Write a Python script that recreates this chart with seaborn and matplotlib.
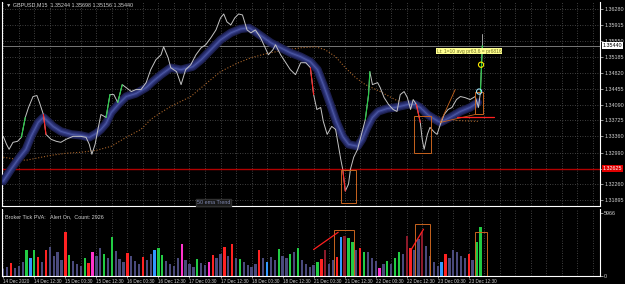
import numpy as np
import matplotlib
matplotlib.use("Agg")
import matplotlib.pyplot as plt
import matplotlib.transforms as mtransforms
from matplotlib.patches import Rectangle
from matplotlib.ticker import FixedLocator, MultipleLocator
import seaborn as sns
import pandas as pd

#################################################
#   DATA   --------------------------------------
#################################################
# x axis is the M15 bar index
price_bar = [0, 5, 9, 15, 22, 28, 34, 39, 46, 52, 56, 62, 66, 74, 82, 89, 97, 108, 120, 128,
             133, 137, 142, 147, 151, 159, 165, 171, 177, 184, 190, 198, 205, 213, 221, 228, 236, 244, 248, 255,
             259, 268, 275, 282, 290, 298, 306, 313, 321, 329, 336, 341, 346, 352, 358, 364, 370, 377, 383, 390,
             398, 403, 410, 417, 421, 429, 437, 444, 452, 460, 468, 475, 480, 485, 491, 495, 501, 508, 514, 518,
             522, 525, 529, 534, 537, 542, 548, 554, 560, 565, 567, 571, 579, 583, 589, 596, 603, 609, 614, 620,
             625, 630, 634, 639, 645, 648, 651, 656, 660, 667, 671, 676, 682, 688, 694, 701, 707, 714, 722, 730,
             735, 738, 741]
price_close = [1.33362, 1.33179, 1.33065, 1.33225, 1.33248, 1.33339, 1.33795, 1.34023, 1.34274, 1.34297,
               1.34137, 1.33863, 1.33407, 1.33293, 1.33248, 1.33225, 1.33293, 1.33362, 1.33362, 1.33339,
               1.33179, 1.32951, 1.33179, 1.33567, 1.33863, 1.33795, 1.34319, 1.34319, 1.34137, 1.34547,
               1.34479, 1.34388, 1.34433, 1.34433, 1.34593, 1.34889, 1.35117, 1.35231, 1.35414, 1.35163,
               1.34935, 1.34844, 1.34547, 1.34889, 1.35003, 1.35231, 1.35391, 1.35459, 1.35619, 1.35801,
               1.36075, 1.36166, 1.35984, 1.35915, 1.36075, 1.36166, 1.36143, 1.35801, 1.35733, 1.35801,
               1.35619, 1.35459, 1.35231, 1.35345, 1.35459, 1.35231, 1.35049, 1.34889, 1.34775, 1.35049,
               1.35049, 1.34935, 1.34319, 1.33977, 1.34023, 1.33704, 1.33407, 1.33590, 1.33521, 1.33179,
               1.32837, 1.32609, 1.32108, 1.32267, 1.32609, 1.32883, 1.33065, 1.33407, 1.33749, 1.34319,
               1.34844, 1.34547, 1.34593, 1.34479, 1.34251, 1.34091, 1.33977, 1.33932, 1.34319, 1.34388,
               1.34251, 1.33977, 1.34205, 1.34091, 1.33681, 1.33293, 1.33065, 1.33407, 1.33567, 1.33453,
               1.33407, 1.33635, 1.33863, 1.33977, 1.34023, 1.34205, 1.34274, 1.34251, 1.34205, 1.34274,
               1.34023, 1.34365, 1.35440]
last_ohlc = [1.35244, 1.35698, 1.35156, 1.35440]

ema_bar = [0, 12, 23, 35, 43, 54, 62, 69, 77, 89, 105, 120, 133, 144, 151, 159, 167, 179, 190, 205,
           221, 231, 244, 259, 275, 293, 306, 321, 336, 352, 367, 380, 390, 403, 414, 429, 444, 460, 475, 486,
           495, 506, 515, 525, 534, 548, 555, 563, 571, 580, 594, 606, 626, 637, 645, 656, 668, 676, 691, 707,
           722, 734]
ema_val = [1.32336, 1.32609, 1.32837, 1.33065, 1.33362, 1.33681, 1.33795, 1.33704, 1.33590, 1.33476,
           1.33407, 1.33384, 1.33339, 1.33430, 1.33521, 1.33658, 1.33909, 1.34114, 1.34274, 1.34342,
           1.34479, 1.34616, 1.34775, 1.34935, 1.34889, 1.34958, 1.35117, 1.35345, 1.35573, 1.35733,
           1.35824, 1.35847, 1.35756, 1.35619, 1.35505, 1.35391, 1.35277, 1.35186, 1.35072, 1.34889,
           1.34547, 1.34091, 1.33704, 1.33362, 1.33179, 1.33134, 1.33293, 1.33567, 1.33795, 1.33932,
           1.34000, 1.34023, 1.34091, 1.34091, 1.34023, 1.33863, 1.33749, 1.33681, 1.33795, 1.33932,
           1.34023, 1.34137]

slow_bar = [0, 20, 35, 51, 74, 97, 120, 144, 167, 190, 213, 228, 244, 259, 290, 321, 336, 360, 383, 406,
            429, 460, 483, 498, 514, 529, 545, 560, 583, 606, 630, 653, 676, 699, 734]
slow_val = [1.32883, 1.32837, 1.32814, 1.32860, 1.32928, 1.32974, 1.32997, 1.33042, 1.33134, 1.33339,
            1.33521, 1.33749, 1.33909, 1.34046, 1.34274, 1.34661, 1.34844, 1.35026, 1.35163, 1.35254,
            1.35322, 1.35391, 1.35414, 1.35345, 1.35186, 1.34935, 1.34707, 1.34547, 1.34388, 1.34205,
            1.34046, 1.33909, 1.33795, 1.33727, 1.33704]

# tick volume, one bar per 6 candles
vol_count = [670, 860, 1250, 770, 960, 1340, 2500, 1730, 2500, 1820,
             1340, 2500, 2780, 1920, 2300, 1540, 4130, 2020, 1440, 1150,
             960, 1730, 1250, 2300, 1920, 2690, 2110, 1730, 3650, 2400,
             1630, 1340, 2210, 1920, 1440, 1150, 1820, 1540, 2110, 2500,
             2690, 2020, 1440, 1150, 960, 1730, 2980, 1540, 1150, 860,
             1630, 1250, 1060, 1340, 2020, 1730, 2110, 2780, 1920, 2980,
             1730, 1630, 1340, 1060, 860, 1150, 2500, 1730, 1340, 1820,
             1540, 2590, 1920, 1730, 2110, 2300, 2690, 1540, 1150, 860,
             1060, 1340, 1630, 2500, 1150, 1540, 1820, 3650, 3740, 3550,
             3170, 2500, 2690, 2300, 2300, 1730, 1440, 770, 1150, 1440,
             1150, 1730, 2300, 2110, 3740, 2690, 2500, 3460, 4130, 2880,
             1920, 1340, 960, 1340, 2110, 1730, 2500, 2300, 1920, 1730,
             2110, 1540, 3170, 4610]
vol_kind = ("ssrsssgbgr" "srssssrgss" "sgrmssgsgs" "ssrsssrssb" "ggssssmsss"
            "gssmrssrsr" "sgssssrsbs" "sgssgsgsss" "sgrdssrbdg" "gsrgsssmsg"
            "sggsdrssds" "sssbrsssss" "rsgg")

price_ticks = [1.31895, 1.32260, 1.32625, 1.32990, 1.33360, 1.33725, 1.34090,
               1.34455, 1.34820, 1.35185, 1.35550, 1.35915, 1.36280]
time_ticks = ["14 Dec 2020", "14 Dec 12:30", "15 Dec 00:30", "15 Dec 12:30", "16 Dec 00:30",
              "16 Dec 12:30", "17 Dec 00:30", "17 Dec 12:30", "18 Dec 00:30", "18 Dec 12:30",
              "21 Dec 00:30", "21 Dec 12:30", "22 Dec 00:30", "22 Dec 12:30", "23 Dec 00:30",
              "23 Dec 12:30"]
support_level = 1.32625
bid_price = 1.35440
vol_max = 5966

# pattern boxes: bar0, bar1, low, high
price_boxes = [(522, 545, 1.31834, 1.32586), (636, 662, 1.32974, 1.33818), (730, 742, 1.33863, 1.34388)]
vol_boxes = [(512, 542, 0, 4320), (637, 660, 0, 4900), (730, 748, 0, 4130)]
vol_trend = [((480, 518), (2500, 4130)), ((630, 650), (2400, 4420))]
wedge_lines = [((676, 699), (1.33681, 1.34433)), ((676, 730), (1.33681, 1.33863))]
short_level = ((702, 759), (1.33795, 1.33795))

#################################################
#   STYLE   -------------------------------------
#################################################
sns.set_theme(style="dark", rc={"axes.facecolor": "black", "figure.facecolor": "black",
                                 "axes.edgecolor": "white", "text.color": "#d0d0d0"})
plt.rcParams['font.family'] = ['Liberation Sans', 'DejaVu Sans']

txt_col = "#d0d0d0"
grid_kw = dict(color="#555555", linestyle=(0, (1, 2)), linewidth=0.6)
fs = 3.9

fig = plt.figure(figsize=(6.25, 2.84), dpi=100)
ax = fig.add_axes([2 / 625, 1 - 206 / 284, 598 / 625, 204 / 284])
axv = fig.add_axes([2 / 625, 1 - 276 / 284, 598 / 625, 67 / 284], sharex=ax)

#################################################
#   PRICE PANEL   -------------------------------
#################################################
ax.axhline(support_level, color="#b00000", lw=1.0, zorder=2)
ax.axhline(bid_price, color="#8a8a8a", lw=0.6, zorder=2)

sns.lineplot(x=slow_bar, y=slow_val, ax=ax, color="#a8642a", lw=0.8, linestyle=":", zorder=3)

for lw, c in [(6.0, "#1c1f4e"), (4.2, "#272d6c"), (2.2, "#363f88"), (0.7, "#4d58a4")]:
    sns.lineplot(x=ema_bar, y=ema_val, ax=ax, color=c, lw=lw, zorder=4,
                 solid_capstyle="round")

sns.lineplot(x=price_bar, y=price_close, ax=ax, color="#c4c4c4", lw=0.7,
             estimator=None, sort=False, zorder=5)
pb = np.array(price_bar)
pc = np.array(price_close)
d = np.diff(pc)
for k in np.where(np.abs(d) > 0.004)[0]:
    ax.plot(pb[k:k + 2], pc[k:k + 2], color="#22cc44" if d[k] > 0 else "#ff2020", lw=0.8, zorder=6)
ax.plot([price_bar[-1], price_bar[-1]], [last_ohlc[3], last_ohlc[1]], color="#a0a0a0", lw=0.7, zorder=5)

for b0, b1, lo, hi in price_boxes:
    ax.add_patch(Rectangle((b0, lo), b1 - b0, hi - lo, fill=False, ec="#c8641e", lw=0.7, zorder=7))
for xs, ys in wedge_lines:
    ax.plot(xs, ys, color="#c8641e", lw=0.6, zorder=7)
ax.plot(short_level[0], short_level[1], color="#ff2020", lw=0.9, zorder=7)

ax.scatter([739], [1.35003], s=14, facecolors="none", edgecolors="#ffee00", lw=0.8, zorder=8)
ax.scatter([736], [1.34388], s=14, facecolors="none", edgecolors="#a0e8ff", lw=0.8, zorder=8)
ax.text(671, 1.35311, "Lt: 1=10 avg pr63,6 = pr6816", fontsize=3.6, color="#707020", va="center",
        bbox=dict(facecolor="#ffff90", edgecolor="none", pad=0.5), zorder=9)
ax.text(325, 1.31790, "50 ema Trend", fontsize=fs, color="#8088b0", ha="center", va="bottom",
        bbox=dict(facecolor="#181818", edgecolor="#303030", pad=0.8), zorder=9)

ax.set_xlim(-2, 923)
ax.set_ylim(1.31766, 1.36440)
ax.yaxis.tick_right()
ax.set_yticks(price_ticks)
ax.set_yticklabels(["" if p == support_level else f"{p:.5f}" for p in price_ticks])
ax.tick_params(axis="y", right=True, left=False, labelsize=fs, colors=txt_col, length=2, width=0.5, pad=1)
ax.tick_params(axis="x", which="both", bottom=False, labelbottom=False)
ax.xaxis.set_major_locator(FixedLocator([48 * i for i in range(len(time_ticks))]))
ax.xaxis.set_minor_locator(MultipleLocator(24))
ax.grid(True, which="both", **grid_kw)
ax.set_axisbelow(True)
ax.set_xlabel("")
ax.set_ylabel("")

trans = mtransforms.blended_transform_factory(ax.transAxes, ax.transData)
ax.text(1.004, support_level, f"{support_level:.5f}", transform=trans, fontsize=fs, color="white",
        va="center", ha="left", clip_on=False, zorder=10,
        bbox=dict(facecolor="#e00000", edgecolor="none", pad=0.6))
ax.text(1.004, bid_price, f"{bid_price:.5f}", transform=trans, fontsize=fs, color="black",
        va="center", ha="left", clip_on=False, zorder=10,
        bbox=dict(facecolor="white", edgecolor="none", pad=0.6))

for side in ["left", "right", "bottom"]:
    ax.spines[side].set_color("white")
    ax.spines[side].set_linewidth(0.8)
ax.spines["top"].set_visible(False)

fig.text(6 / 625, 1 - 5 / 284, "\u25bc GBPUSD,M15  1.35244 1.35698 1.35156 1.35440",
         fontsize=fs, color=txt_col, va="center")

#################################################
#   VOLUME PANEL   ------------------------------
#################################################
kind_colors = {"s": "#4a4a7c", "r": "#ff2222", "g": "#22cc44", "b": "#3399ff",
               "m": "#ff33cc", "d": "#8b1a2a"}
vol_df = pd.DataFrame({"bar": np.arange(len(vol_count)) * 6, "count": vol_count, "kind": list(vol_kind)})
sns.barplot(data=vol_df, x="bar", y="count", hue="kind", palette=kind_colors, native_scale=True,
            dodge=False, width=0.6, errorbar=None, legend=False, saturation=1, linewidth=0, ax=axv)

for b0, b1, lo, hi in vol_boxes:
    axv.add_patch(Rectangle((b0, lo), b1 - b0, hi - lo, fill=False, ec="#c8641e", lw=0.7, zorder=7))
for xs, ys in vol_trend:
    axv.plot(xs, ys, color="#ff2020", lw=0.9, zorder=7)

axv.set_xlim(-2, 923)
axv.set_ylim(0, 6330)
axv.yaxis.tick_right()
axv.set_yticks([0, vol_max])
axv.set_yticklabels(["0", str(vol_max)])
axv.tick_params(axis="y", right=True, left=False, labelsize=fs, colors=txt_col, length=2, width=0.5, pad=1)
axv.xaxis.set_major_locator(FixedLocator([48 * i for i in range(len(time_ticks))]))
axv.xaxis.set_minor_locator(MultipleLocator(24))
axv.set_xticklabels(time_ticks)
axv.tick_params(axis="x", which="major", bottom=True, labelsize=3.3, colors=txt_col, length=1.5, width=0.5, pad=0.5)
axv.tick_params(axis="x", which="minor", bottom=False)
for lbl in axv.get_xticklabels():
    lbl.set_ha("left")
axv.grid(True, which="both", axis="x", **grid_kw)
axv.grid(False, axis="y")
axv.set_axisbelow(True)
axv.set_xlabel("")
axv.set_ylabel("")
axv.text(0.005, 0.92, "Broker Tick PVA:   Alert On,  Count: 2926", transform=axv.transAxes,
         fontsize=fs, color=txt_col, va="top")

for side in ["left", "right", "bottom"]:
    axv.spines[side].set_color("white")
    axv.spines[side].set_linewidth(0.8)
axv.spines["top"].set_visible(False)

fig.savefig("out.png", dpi=100, facecolor="black")
